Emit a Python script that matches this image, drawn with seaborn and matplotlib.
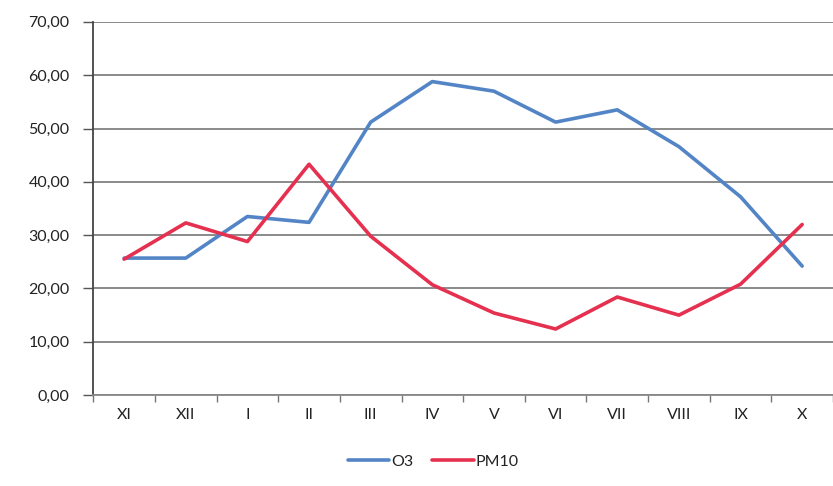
import numpy as np
import pandas as pd
import matplotlib
matplotlib.use("Agg")
import matplotlib.pyplot as plt
import seaborn as sns
from matplotlib.ticker import FuncFormatter, FixedLocator

# data
months = ['XI', 'XII', 'I', 'II', 'III', 'IV', 'V', 'VI', 'VII', 'VIII', 'IX', 'X']
o3 = [25.7, 25.7, 33.5, 32.4, 51.2, 58.8, 57.0, 51.2, 53.5, 46.6, 37.2, 24.2]
pm10 = [25.5, 32.3, 28.8, 43.3, 29.8, 20.7, 15.4, 12.4, 18.4, 15.0, 20.8, 32.0]

df = pd.DataFrame({
    'Month': months * 2,
    'pos': list(range(len(months))) * 2,
    'Value': o3 + pm10,
    'Series': ['O3'] * len(months) + ['PM10'] * len(months),
})

sns.set_theme(style="white")
plt.rcParams['font.family'] = ['Lato', 'DejaVu Sans']

fig = plt.figure(figsize=(8.33, 4.86), dpi=100)
ax = fig.add_axes([0.112, 0.187, 0.888, 0.768])

palette = {'O3': '#5385C6', 'PM10': '#E5304F'}
sns.lineplot(data=df, x='pos', y='Value', hue='Series', palette=palette,
             linewidth=2.6, sort=False, legend=False, ax=ax)

# axes styling (Excel look)
ax.set_ylim(0, 70)
ax.set_xlim(-0.5, len(months) - 0.5)
ax.set_yticks(np.arange(0, 71, 10))
ax.yaxis.set_major_formatter(FuncFormatter(lambda v, p: f"{v:.2f}".replace('.', ',')))
ax.set_xticks(range(len(months)))
ax.set_xticklabels(months)
ax.xaxis.set_minor_locator(FixedLocator(np.arange(-0.5, len(months), 1.0)))
ax.set_xlabel('')
ax.set_ylabel('')

ax.grid(axis='y', color='#8a8a8a', linewidth=1.4)
ax.set_axisbelow(True)
for s in ['top', 'right']:
    ax.spines[s].set_visible(False)
ax.spines['left'].set_color('#444444')
ax.spines['left'].set_linewidth(1.3)
ax.spines['bottom'].set_color('#888888')
ax.spines['bottom'].set_linewidth(1.3)

ax.tick_params(axis='y', which='major', direction='out', length=7, width=1,
               color='#555555', labelsize=11.5, labelcolor='#222222', pad=10, left=True)
ax.tick_params(axis='x', which='major', length=0, labelsize=11.5,
               labelcolor='#222222', pad=9)
ax.tick_params(axis='x', which='minor', direction='out', length=5, width=1,
               color='#777777', bottom=True)

handles = [plt.Line2D([], [], color=palette[k], linewidth=2.6) for k in ['O3', 'PM10']]
fig.legend(handles, ['O3', 'PM10'], loc='center', bbox_to_anchor=(0.52, 0.05),
           ncol=2, frameon=False, fontsize=11.5, handlelength=2.6,
           handletextpad=0.1, columnspacing=1.2, labelcolor='#222222')

fig.savefig('out.png', dpi=100)
